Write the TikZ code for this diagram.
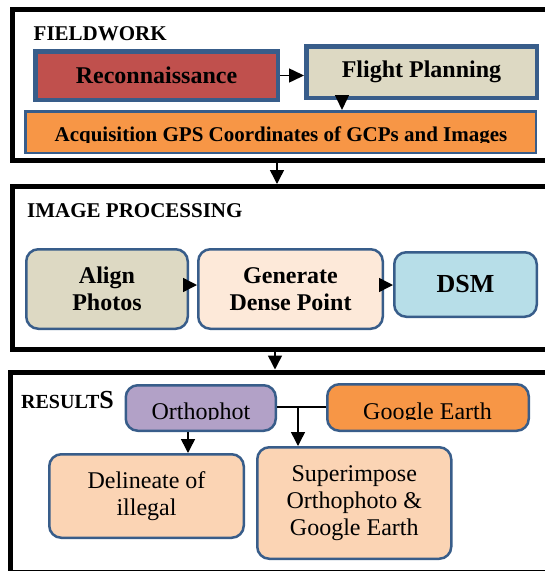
\documentclass[tikz,border=0pt]{standalone}
\usepackage{fontspec}
\setmainfont{Liberation Serif}
\usetikzlibrary{arrows.meta}
\definecolor{bordblue}{RGB}{56,93,138}
\definecolor{reconred}{HTML}{C0504D}
\definecolor{khaki}{HTML}{DDD9C3}
\definecolor{orangeo}{HTML}{F79646}
\definecolor{peachlight}{HTML}{FDE9D9}
\definecolor{dsmblue}{HTML}{B7DEE8}
\definecolor{lavender}{HTML}{B2A1C7}
\definecolor{peach}{HTML}{FBD4B4}
\tikzset{
  frame/.style={draw=black, line width=5pt, inner sep=0pt},
  thickbox/.style={draw=bordblue, line width=4.5pt, inner sep=0pt, font=\bfseries\fontsize{24}{27}\selectfont},
  thinbox/.style={draw=bordblue, line width=2.5pt, inner sep=0pt},
  roundbox/.style={draw=bordblue, line width=2.5pt, inner sep=0pt, rounded corners=12pt, align=center},
  arr/.style={line width=1.5pt, -{Triangle[width=14pt,length=14pt]}},
  plainline/.style={line width=1.5pt},
  heading/.style={anchor=base west, inner sep=0pt, font=\bfseries\fontsize{21}{21}\selectfont}
}
\begin{document}
\begin{tikzpicture}[x=1pt,y=-1pt]
\useasboundingbox (0,0) rectangle (545,571);
% frames
\node[frame, minimum width=548pt, minimum height=151pt] (fw) at (286,85) {};
\node[frame, minimum width=548pt, minimum height=163pt] (ip) at (286,268) {};
\node[frame, minimum width=550pt, minimum height=200pt] (rs) at (285.5,472) {};
% headings
\node[heading] (fwt) at (33.5,40) {FIELDWORK};
\node[heading] (ipt) at (27,217) {IMAGE PROCESSING};
\node[heading] (rst) at (21,408) {\fontsize{20}{20}\selectfont RESULT\fontsize{26}{26}\selectfont S};
% fieldwork boxes
\node[thickbox, fill=reconred, minimum width=242.5pt, minimum height=48.5pt] (recon) at (156.5,75.5) {Reconnaissance};
\node[thickbox, fill=khaki, minimum width=230.5pt, minimum height=51.5pt] (fp) at (421.5,72) {\raisebox{-2pt}{Flight Planning}};
\node[thinbox, fill=orangeo, minimum width=510.5pt, minimum height=41.5pt] (acq) at (280.5,132) {};
\begin{scope}
\clip (0,100) rectangle (545,142);
\node[anchor=base, inner sep=0pt, font=\bfseries\fontsize{21}{21}\selectfont] (acqt) at (281,141.5) {Acquisition GPS Coordinates of GCPs and Images};
\end{scope}
\coordinate (c1) at (342,0);
\draw[arr, -{Triangle[width=14pt,length=15pt]}] (recon.east) -- (recon.east -| fp.west);
\draw[arr, -{Triangle[width=14pt,length=15pt]}] (fp.south -| c1) -- (acq.north -| c1);
% frame connectors
\coordinate (c2) at (277,0);
\coordinate (c3) at (275,0);
\draw[arr] (fw.south -| c2) -- (ip.north -| c2);
\draw[arr] (ip.south -| c3) -- (rs.north -| c3);
% image processing boxes
\node[roundbox, fill=khaki, minimum width=161.5pt, minimum height=79.5pt, font=\bfseries\fontsize{24}{27}\selectfont] (align) at (107,289) {Align\\Photos};
\node[roundbox, fill=peachlight, minimum width=184.5pt, minimum height=79.5pt, font=\bfseries\fontsize{24}{27}\selectfont] (gen) at (290.5,289) {Generate\\Dense Point};
\node[roundbox, fill=dsmblue, minimum width=142.5pt, minimum height=64.5pt, font=\bfseries\fontsize{26}{27}\selectfont] (dsm) at (465.5,284.5) {DSM};
\draw[arr] (align.east |- 0,285) -- (gen.west |- 0,285);
\draw[arr] (gen.east |- 0,285) -- (dsm.west |- 0,285);
% results boxes
\node[roundbox, fill=lavender, minimum width=150pt, minimum height=45.5pt] (ortho) at (200.75,408) {};
\node[roundbox, fill=orangeo, minimum width=201.5pt, minimum height=46.5pt] (ge) at (428,407.5) {};
\begin{scope}
\clip (0,380) rectangle (545,419.5);
\node[anchor=base, inner sep=0pt, font=\fontsize{24}{24}\selectfont] (orthot) at (201,419) {Orthophot};
\node[anchor=base, inner sep=0pt, font=\fontsize{24}{24}\selectfont] (get) at (427.5,419) {Google Earth};
\end{scope}
\node[roundbox, fill=peach, minimum width=194.5pt, minimum height=83.5pt, font=\fontsize{24}{27}\selectfont] (del) at (146.5,496) {Delineate of\\illegal};
\node[roundbox, fill=peach, minimum width=194pt, minimum height=111.5pt, font=\fontsize{24}{27}\selectfont] (sup) at (354.25,503) {Superimpose\\Orthophoto \&\\Google Earth};
\coordinate (c4) at (188,0);
\coordinate (c5) at (298,0);
\coordinate (j1) at (298,407);
\draw[plainline] (ortho.east |- j1) -- (ge.west |- j1);
\draw[arr] (j1) -- (sup.north -| c5);
\draw[arr] (ortho.south -| c4) -- (del.north -| c4);
\end{tikzpicture}
\end{document}
